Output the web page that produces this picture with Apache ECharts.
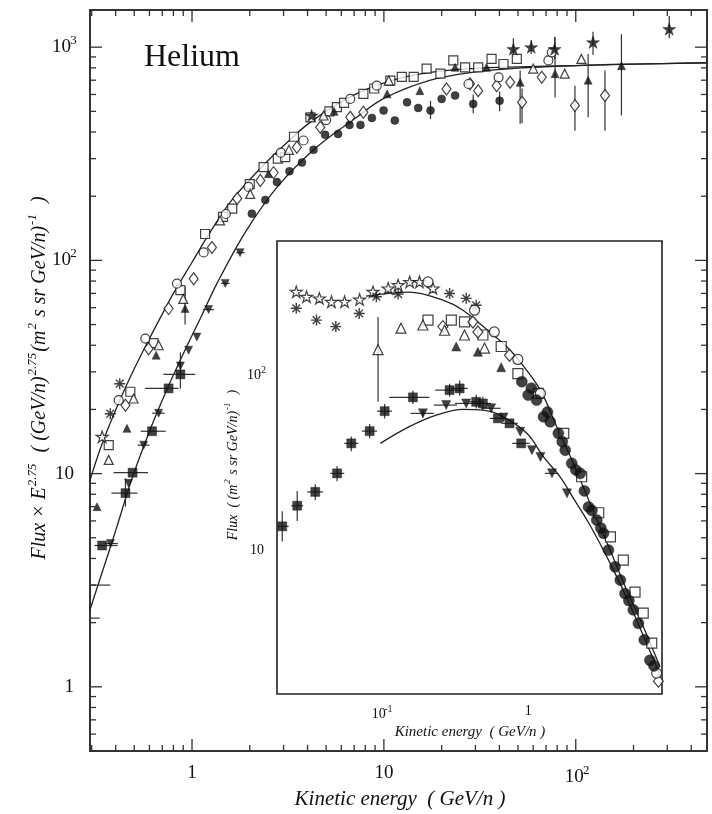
<!DOCTYPE html>
<html><head><meta charset="utf-8">
<script src="https://cdn.jsdelivr.net/npm/echarts@6/dist/echarts.min.js"></script>
<style>html,body{margin:0;padding:0;background:#fff}#c{width:712px;height:814px}</style>
</head><body><div id="c"></div>
<script>
// ---------------- DATA (main panel: Flux x E^2.75) ----------------
const mainXRange = [0.294, 483];
const mainYRange = [0.5, 1494];
const mainXMajor = [1, 10, 100];
const mainYMajor = [1, 10, 100, 1000];

const mainCurveUpper = [[0.294,9.3],[0.34,13.8],[0.42,22],[0.5,31],[0.6,43],[0.7,56],[0.8,70],[1.0,98],[1.22,132],[1.6,190],[2.27,270],[3.0,345],[4.14,445],[6.68,585],[10.8,695],[17.5,762],[30,795],[50,808],[100,820],[200,833],[483,845]];
const mainCurveLower = [[0.294,2.3],[0.333,3.25],[0.4,5.4],[0.487,9.5],[0.62,17],[0.75,25.5],[0.92,38],[1.1,53],[1.35,78],[1.89,135],[2.77,220],[4.47,340],[7.24,470],[10,575],[17.5,700],[30,765],[50,798],[100,820],[200,833],[483,845]];

const mainOpenSquare = [[0.368,13.6],[0.477,24.2],[0.63,40.9],[0.87,72.5],[1.17,133],[1.45,160],[1.62,175],[2.0,228],[2.36,274],[2.8,300],[3.06,305],[3.4,380],[4.14,469],[5.2,500],[5.69,523],[6.2,548],[7.82,604],[8.9,640],[10.8,697],[12.4,726],[14.3,726],[16.7,794],[19.7,751],[23.0,867],[26.5,804],[31.0,804],[36.4,881],[42.0,834],[49.3,881]];
const mainOpenDiamond = [[0.45,20.9],[0.594,38.5],[0.755,59.4],[1.02,82],[1.27,115],[1.72,195],[2.27,237],[2.66,258],[3.52,339],[4.66,421],[6.68,469],[7.82,495],[21.2,637],[28.1,673],[31.0,625],[38.7,660],[45.5,684],[52.5,551],[66.5,722],[99,532],[142,593]];
const mainOpenCircle = [[0.415,22.1],[0.571,43],[0.835,77.8],[1.15,109],[1.5,165],[1.97,221],[2.9,320],[3.81,365],[5.0,455],[6.68,572],[9.18,660],[27.6,672],[39.6,722],[72,867],[75,946]];
const mainOpenTriangle = [[0.368,11.6],[0.496,22.5],[0.67,40],[0.90,66],[1.40,154],[2.01,205],[3.2,330],[4.85,478],[10.6,697],[60,794],[87.6,751],[107,881]];
const mainFilledTriangle = [[0.32,7.0],[0.458,16.3],[0.65,35.9],[0.92,59.5],[2.5,255],[5.5,500],[10.4,604],[15.4,625],[23.5,804],[34.3,804],[51.3,684],[78,751],[116,700],[173,819]];
const mainFilledCircle = [[2.05,165.6],[2.41,192],[2.77,233],[3.22,262],[3.74,288],[4.3,330],[4.94,388],[5.77,392],[6.62,432],[7.55,432],[8.66,466],[9.96,505],[11.4,453],[13.2,551],[15.1,519],[17.5,505],[20.0,572],[23.5,593],[29.2,542],[40.1,561]];
const mainFilledStar = [[4.2,478],[47.3,980],[58.6,1000],[77.6,980],[123,1055],[307,1217]];
const mainOpenStar = [[0.34,14.9]];
const mainAsterisk = [[0.375,19.1],[0.42,26.4]];
const mainInvTriangle = [[0.376,4.7],[0.467,9.0],[0.56,13.6],[0.67,19.2],[0.87,32],[0.96,37.9],[1.06,43.7],[1.22,58.8],[1.49,78],[1.78,108.7]];
const mainFilledSquare = [[0.34,4.6],[0.45,8.1],[0.49,10.1],[0.619,15.8],[0.755,25.1],[0.87,29.2]];
// vertical error bars [E, low, high]
const mainErrY = [[51.3,437,778],[78,580,1110],[116,469,929],[173,478,1150],[99,406,660],[142,406,778],[52.5,440,640],[47.3,900,1100],[58.6,930,1080],[77.6,880,1120],[123,920,1180],[307,1100,1400],[0.92,50,75],[0.87,25,37],[0.45,7,9.5],[40.1,500,620],[29.2,490,600],[17.5,460,560]];
// horizontal error bars [Elow, Ehigh, F]
const mainErrX = [[0.29,0.375,3.0],[0.29,0.33,2.1],[0.31,0.41,4.6],[0.38,0.52,8.1],[0.39,0.59,10.1],[0.54,0.73,15.8],[0.57,0.85,25.1],[0.71,1.04,29.2],[0.35,0.41,4.7],[0.52,0.6,13.6],[0.62,0.72,19.2],[1.14,1.3,58.8],[1.42,1.57,78],[1.7,1.88,108.7]];

// ---------------- DATA (inset: Flux) ----------------
const insetXRange = [0.02, 8.04];
const insetYRange = [1.52, 589];
const insetXMajor = [0.1, 1];
const insetYMajor = [10, 100];

const insetCurveUpper = [[0.08,285],[0.157,301],[0.26,272],[0.362,237],[0.548,178],[0.718,146],[0.883,120],[1.21,82.8],[1.56,51.2],[2.02,31.6],[2.62,18.7],[3.58,10.1],[4.64,5.96],[6.01,3.68],[7.8,2.17]];
const insetCurveLower = [[0.1,41.1],[0.157,51.2],[0.239,59.6],[0.362,64.3],[0.494,63.7],[0.647,59.6],[0.98,46.9],[1.27,34.4],[1.64,26.5],[2.02,20],[2.62,14],[3.58,8.5],[4.88,4.9],[7.8,1.95]];

const insetOpenStar = [[0.027,302],[0.0317,283],[0.0387,277],[0.0467,265],[0.0573,265],[0.0724,273],[0.0892,302],[0.113,316],[0.132,330],[0.158,344],[0.184,344],[0.227,316]];
const insetAsterisk = [[0.027,243],[0.037,208],[0.05,191],[0.072,227],[0.094,283],[0.132,293],[0.294,295],[0.381,277],[0.445,253]];
const insetOpenCircle = [[0.21,344],[0.434,237],[0.59,178],[0.852,124],[1.21,79.3],[7.4,2.0]];
const insetOpenTriangle = [[0.0965,141],[0.138,187],[0.194,195],[0.272,182],[0.371,171],[0.507,144]];
const insetOpenSquare = [[0.21,208],[0.302,208],[0.371,203],[0.494,171],[0.657,147],[0.852,103],[1.17,79.3],[1.74,46.9],[2.30,26.5],[3.0,16.5],[3.6,12],[4.4,8.85],[5.28,5.8],[6.0,4.4],[6.85,2.97]];
const insetOpenDiamond = [[0.265,191],[0.423,203],[0.457,178],[0.748,131],[7.6,1.8]];
const insetFilledTriangle = [[0.326,147],[0.457,137],[0.657,112]];
const insetFilledSquare = [[0.0217,13.8],[0.0274,18.1],[0.0363,21.7],[0.051,27.7],[0.0636,41.1],[0.0847,48.3],[0.107,62.8],[0.166,75.3],[0.294,82.8],[0.344,84.7],[0.445,71],[0.494,69.5],[0.624,57.1],[0.748,53.5],[0.897,41.1]];
const insetInvTriangle = [[0.194,61],[0.279,68],[0.381,69.5],[0.562,65.2],[0.681,57.8],[0.883,47.9],[1.06,37.6],[1.21,34.4],[1.45,27.7],[1.83,21.3]];
const insetFilledCircle = [[0.906,92.5],[1.0,77.6],[1.05,85],[1.14,72.6],[1.27,58.3],[1.35,62],[1.41,54.6],[1.6,46.9],[1.7,42],[1.78,37.6],[1.97,31.6],[2.1,29],[2.25,27.7],[2.4,22],[2.56,17.8],[2.7,17],[2.91,15],[3.1,13.5],[3.23,12.6],[3.49,10.1],[3.87,8.1],[4.2,6.8],[4.52,5.7],[4.8,5.2],[5.14,4.6],[5.57,3.85],[6.1,3.1],[6.66,2.37],[7.1,2.2]];
const insetErrY = [[0.0965,71,217],[0.0217,11.3,16.8],[0.0274,14.8,22],[0.0363,19.5,24],[0.051,25,30.5],[0.0636,37,45],[0.0847,44,53],[0.107,57,69],[0.166,69,82],[0.294,76,90],[0.344,77,94],[0.445,65,78],[0.494,64,76],[0.194,58,64]];
const insetErrX = [[0.0195,0.024,13.8],[0.025,0.030,18.1],[0.032,0.041,21.7],[0.046,0.057,27.7],[0.057,0.071,41.1],[0.075,0.095,48.3],[0.095,0.12,62.8],[0.115,0.215,75.3],[0.235,0.36,82.8],[0.30,0.39,84.7],[0.40,0.50,71],[0.43,0.56,69.5],[0.55,0.71,57.1],[0.66,0.85,53.5],[0.78,1.02,41.1],[0.16,0.23,61],[0.23,0.33,68],[0.32,0.45,69.5],[0.48,0.65,65.2],[1.3,1.6,27.7]];

// ---------------- RENDERING ----------------
const SERIF = '"Liberation Serif","DejaVu Serif",serif';
const INK = '#111';
const STAR = 'path://M50,2 L61.8,37.6 L99,37.6 L68.9,59.5 L80.4,95 L50,73 L19.6,95 L31.1,59.5 L1,37.6 L38.2,37.6 Z';
const AST = 'path://M50,0 L50,100 M0,50 L100,50 M15,15 L85,85 M85,15 L15,85';
const OPEN = {color:'#fff', borderColor:INK, borderWidth:1.2};
const FILL = {color:INK, borderColor:INK, borderWidth:0.5};
const ASTS = {color:'rgba(0,0,0,0)', borderColor:INK, borderWidth:1.4};

function minorTicks(range){
  const out=[];
  for(let e=-3;e<=4;e++){ const d=Math.pow(10,e);
    for(let k=2;k<=9;k++){ const v=+(k*d).toPrecision(6); if(v>range[0]&&v<range[1]) out.push(v);} }
  return out;
}
function tickSeries(gi, xr, yr, xMaj, yMaj, majL, minL, color, w){
  const data=[];
  xMaj.forEach(v=>data.push([v,yr[0],0,majL]));
  minorTicks(xr).forEach(v=>data.push([v,yr[0],0,minL]));
  yMaj.forEach(v=>data.push([xr[0],v,1,majL]));
  minorTicks(yr).forEach(v=>data.push([xr[0],v,1,minL]));
  return {type:'custom', xAxisIndex:gi, yAxisIndex:gi, clip:false, silent:true, z:6, data,
    renderItem(params, api){
      const cs=params.coordSys, L=api.value(3), st={stroke:color, lineWidth:w};
      const p=api.coord([api.value(0),api.value(1)]);
      if(api.value(2)===0){
        const b=cs.y+cs.height, t=cs.y;
        return {type:'group',children:[
          {type:'line',shape:{x1:p[0],y1:b,x2:p[0],y2:b-L},style:st},
          {type:'line',shape:{x1:p[0],y1:t,x2:p[0],y2:t+L},style:st}]};
      } else {
        const l=cs.x, r=cs.x+cs.width;
        return {type:'group',children:[
          {type:'line',shape:{x1:l,y1:p[1],x2:l+L,y2:p[1]},style:st},
          {type:'line',shape:{x1:r,y1:p[1],x2:r-L,y2:p[1]},style:st}]};
      }
    }};
}
function errYSeries(gi, data){
  return {type:'custom', xAxisIndex:gi, yAxisIndex:gi, silent:true, z:3, clip:true, data,
    renderItem(params, api){
      const a=api.coord([api.value(0),api.value(1)]), b=api.coord([api.value(0),api.value(2)]);
      return {type:'line',shape:{x1:a[0],y1:a[1],x2:b[0],y2:b[1]},style:{stroke:'#333',lineWidth:1.2}};
    }};
}
function errXSeries(gi, data){
  return {type:'custom', xAxisIndex:gi, yAxisIndex:gi, silent:true, z:3, clip:true,
    data:data.map(d=>[d[0],d[2],d[1]]),
    renderItem(params, api){
      const a=api.coord([api.value(0),api.value(1)]), b=api.coord([api.value(2),api.value(1)]);
      return {type:'line',shape:{x1:a[0],y1:a[1],x2:b[0],y2:b[1]},style:{stroke:'#333',lineWidth:1.2}};
    }};
}
function sc(gi, data, symbol, size, style, extra){
  return Object.assign({type:'scatter', xAxisIndex:gi, yAxisIndex:gi, data, symbol, symbolSize:size,
    itemStyle:style, z:4, silent:true, clip:true, symbolKeepAspect:true}, extra||{});
}
function curve(gi, data){
  return {type:'line', xAxisIndex:gi, yAxisIndex:gi, data, smooth:0.35, showSymbol:false, symbol:'none',
    lineStyle:{color:'#222', width:1.3}, z:2, silent:true, clip:true};
}
function logFmt(v){
  const l=Math.log10(v), e=Math.round(l);
  if(Math.abs(l-e)>1e-6) return '';
  if(e===0) return '{n|1}';
  if(e===1) return '{n|10}';
  return '{n|10}{s|'+e+'}';
}
function labelCfg(fs, ss, margin, raise){
  return {show:true, formatter:logFmt, margin, color:INK, showMinLabel:false, showMaxLabel:false, hideOverlap:false,
    rich:{ n:{fontSize:fs, fontFamily:SERIF, color:INK},
           s:{fontSize:ss, fontFamily:SERIF, color:INK, width:1, align:'left', padding:[0,0,raise,2]} } };
}
function axis(gi, range, lab){
  return {type:'log', logBase:10, gridIndex:gi, min:range[0], max:range[1],
    axisLine:{show:false}, axisTick:{show:false}, splitLine:{show:false}, minorTick:{show:false},
    axisLabel:lab};
}

const chart = echarts.init(document.getElementById('c'), null, {renderer:'canvas'});
const option = {
  animation:false,
  backgroundColor:'#fff',
  grid:[
    {left:90, top:10, width:617, height:741, show:true, borderColor:'#333', borderWidth:2, backgroundColor:'#fff', containLabel:false, outerBoundsMode:'none'},
    {left:277, top:241, width:385, height:453, show:true, borderColor:'#222', borderWidth:1.6, backgroundColor:'#fff', containLabel:false, outerBoundsMode:'none', z:10}
  ],
  xAxis:[ axis(0, mainXRange, labelCfg(19, 13, 13, 14)), axis(1, insetXRange, labelCfg(14, 10, 10, 10)) ],
  yAxis:[ axis(0, mainYRange, labelCfg(19, 13, 16, 14)), axis(1, insetYRange, labelCfg(14, 10, 13, 10)) ],
  graphic:[
    {type:'text', x:192, y:58, z:20, style:{text:'Helium', font:'32px '+SERIF, fill:INK, align:'center', verticalAlign:'middle'}},
    {type:'text', x:40, y:378, rotation:Math.PI/2, z:20, style:{
      text:'{i|Flux × E}{s|2.75}{i|  ( (GeV/n)}{s|2.75}{i|(m}{s|2}{i| s sr GeV/n)}{s|-1}{i|  )}',
      align:'center', verticalAlign:'middle', fill:INK,
      rich:{ i:{fontSize:20, fontStyle:'italic', fontFamily:SERIF, fill:INK, color:INK},
             s:{fontSize:13, fontStyle:'italic', fontFamily:SERIF, fill:INK, color:INK, padding:[0,1,14,1]} } }},
    {type:'text', x:400, y:799, z:20, style:{text:'Kinetic energy  ( GeV/n )', font:'italic 21px '+SERIF, fill:INK, align:'center', verticalAlign:'middle'}},
    {type:'text', x:470, y:732, z:30, style:{text:'Kinetic energy  ( GeV/n )', font:'italic 15px '+SERIF, fill:INK, align:'center', verticalAlign:'middle'}},
    {type:'text', x:233, y:465, rotation:Math.PI/2, z:30, style:{
      text:'{i|Flux  ( (m}{s|2}{i| s sr GeV/n)}{s|-1}{i|  )}',
      align:'center', verticalAlign:'middle', fill:INK,
      rich:{ i:{fontSize:14, fontStyle:'italic', fontFamily:SERIF, fill:INK, color:INK},
             s:{fontSize:9, fontStyle:'italic', fontFamily:SERIF, fill:INK, color:INK, padding:[0,1,10,1]} } }}
  ],
  series:[
    // main panel
    tickSeries(0, mainXRange, mainYRange, mainXMajor, mainYMajor, 12, 6, '#333', 1.3),
    curve(0, mainCurveUpper), curve(0, mainCurveLower),
    errYSeries(0, mainErrY), errXSeries(0, mainErrX),
    sc(0, mainOpenSquare, 'rect', 9, OPEN),
    sc(0, mainOpenDiamond, 'diamond', [9,12], OPEN),
    sc(0, mainOpenCircle, 'circle', 9, OPEN),
    sc(0, mainOpenTriangle, 'triangle', 9, OPEN),
    sc(0, mainFilledTriangle, 'triangle', 8, FILL),
    sc(0, mainFilledCircle, 'circle', 8, FILL),
    sc(0, mainFilledStar, STAR, 13, FILL),
    sc(0, mainOpenStar, STAR, 12, OPEN),
    sc(0, mainAsterisk, AST, 11, ASTS),
    sc(0, mainInvTriangle, 'triangle', 8, FILL, {symbolRotate:180}),
    sc(0, mainFilledSquare, 'rect', 9, FILL),
    // inset
    tickSeries(1, insetXRange, insetYRange, insetXMajor, insetYMajor, 8, 4, '#333', 1.1),
    Object.assign(curve(1, insetCurveUpper), {z:12}), Object.assign(curve(1, insetCurveLower), {z:12}),
    Object.assign(errYSeries(1, insetErrY), {z:12}), Object.assign(errXSeries(1, insetErrX), {z:12}),
    sc(1, insetOpenStar, STAR, 12, OPEN, {z:13}),
    sc(1, insetAsterisk, AST, 11, ASTS, {z:13}),
    sc(1, insetOpenSquare, 'rect', 10, OPEN, {z:13}),
    sc(1, insetOpenDiamond, 'diamond', [10,12], OPEN, {z:13}),
    sc(1, insetOpenTriangle, 'triangle', 10, OPEN, {z:13}),
    sc(1, insetOpenCircle, 'circle', 10, OPEN, {z:13}),
    sc(1, insetFilledTriangle, 'triangle', 9, FILL, {z:14}),
    sc(1, insetFilledSquare, 'rect', 9, FILL, {z:14}),
    sc(1, insetInvTriangle, 'triangle', 9, FILL, {symbolRotate:180, z:14}),
    sc(1, insetFilledCircle, 'circle', 11, FILL, {z:14})
  ]
};
chart.setOption(option);
</script>
</body></html>
